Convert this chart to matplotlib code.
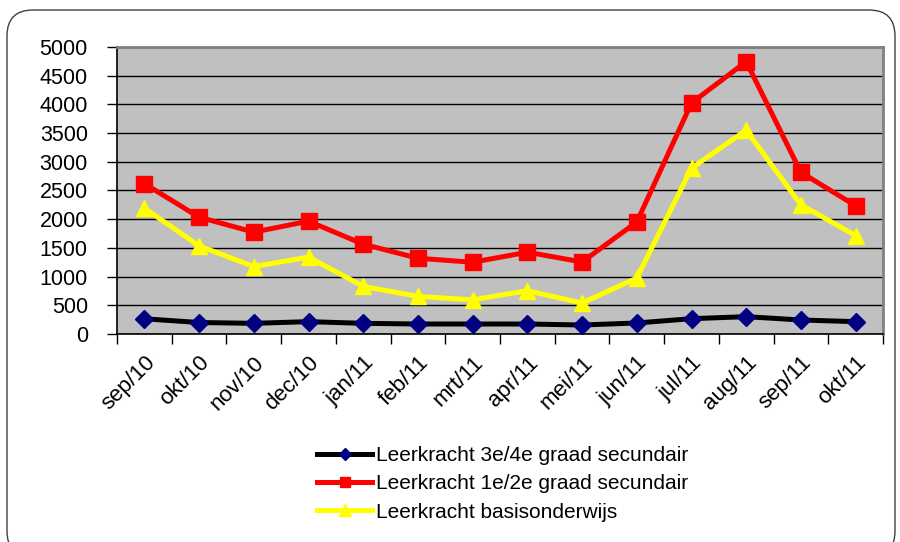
import matplotlib
matplotlib.use("Agg")
import matplotlib.pyplot as plt
from matplotlib.patches import FancyBboxPatch
import numpy as np

months = ["sep/10", "okt/10", "nov/10", "dec/10", "jan/11", "feb/11", "mrt/11",
          "apr/11", "mei/11", "jun/11", "jul/11", "aug/11", "sep/11", "okt/11"]
secundair_34 = [265, 200, 186, 215, 186, 174, 174, 174, 157, 192, 267, 302, 244, 215]
secundair_12 = [2620, 2035, 1775, 1965, 1565, 1320, 1250, 1425, 1255, 1950, 4025, 4745, 2815, 2235]
basis = [2195, 1535, 1175, 1340, 830, 655, 595, 755, 540, 975, 2890, 3550, 2250, 1715]
yticks = list(range(0, 5001, 500))
series_names = ["Leerkracht 3e/4e graad secundair",
                "Leerkracht 1e/2e graad secundair",
                "Leerkracht basisonderwijs"]

plt.rcParams['font.family'] = ['Liberation Sans', 'DejaVu Sans']

fig = plt.figure(figsize=(9, 5.42), dpi=100)
# rounded frame (inch coordinates so the corners are circular)
frame = FancyBboxPatch((0.07, -0.15), 8.88, 5.47,
                       boxstyle="round,pad=0,rounding_size=0.26",
                       transform=fig.dpi_scale_trans, facecolor='white',
                       edgecolor='#404040', linewidth=1.0, zorder=-10)
fig.patches.append(frame)

ax = fig.add_axes([117/900, 1-334/542, 766/900, 287/542])
ax.set_zorder(1)
ax.set_facecolor('#C0C0C0')
x = np.arange(len(months))

ax.plot(x, secundair_34, color='black', lw=3.6, marker='D', markersize=9,
        markerfacecolor='#000080', markeredgecolor='#000080', label=series_names[0], zorder=3)
ax.plot(x, secundair_12, color='#FF0000', lw=3.6, marker='s', markersize=11,
        markerfacecolor='#FF0000', markeredgecolor='#FF0000', label=series_names[1], zorder=3)
ax.plot(x, basis, color='#FFFF00', lw=3.6, marker='^', markersize=12,
        markerfacecolor='#FFFF00', markeredgecolor='#FFFF00', label=series_names[2], zorder=3)

ax.set_xlim(-0.5, len(months) - 0.5)
ax.set_ylim(0, 5000)
ax.set_yticks(yticks)
ax.set_yticklabels([str(v) for v in yticks], fontsize=15.5)
ax.yaxis.grid(True, color='black', linewidth=1.0)
ax.set_axisbelow(True)

ax.set_xticks(x)
ax.set_xticklabels(months, fontsize=16, rotation=45, ha='right', va='top',
                   rotation_mode='anchor')
ax.set_xticks(np.arange(-0.5, len(months), 1.0), minor=True)
ax.tick_params(axis='x', which='major', length=0, pad=13)
ax.tick_params(axis='x', which='minor', length=7, width=1, direction='out')
ax.tick_params(axis='y', length=7, width=1, direction='out', pad=14)

for s in ['top', 'right']:
    ax.spines[s].set_color('#808080')
    ax.spines[s].set_linewidth(2)
for s in ['left', 'bottom']:
    ax.spines[s].set_color('black')
    ax.spines[s].set_linewidth(1.2)

leg = fig.legend(loc='upper left', bbox_to_anchor=(317/900, 1-446/542),
                 frameon=False, fontsize=15, handlelength=2.65, handletextpad=0.2,
                 labelspacing=0.45, borderpad=0, borderaxespad=0, markerscale=0.7)

fig.savefig("out.png", dpi=100)
